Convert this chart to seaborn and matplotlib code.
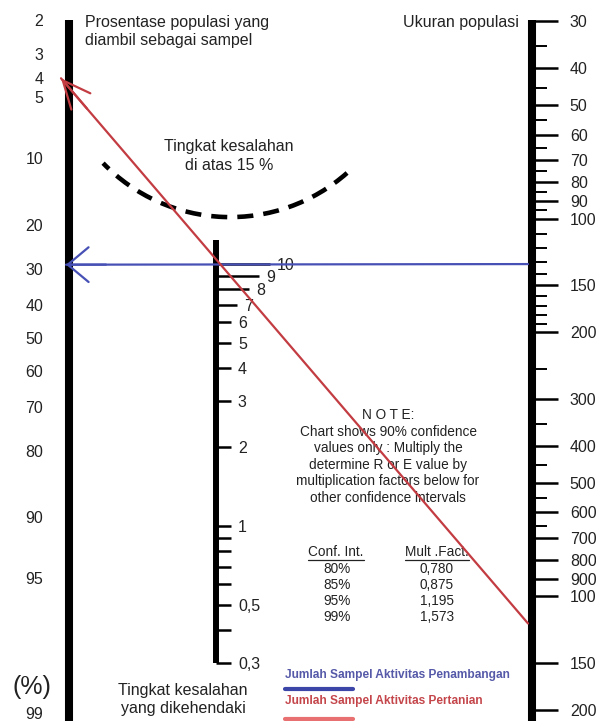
import numpy as np
import pandas as pd
import matplotlib
matplotlib.use("Agg")
import matplotlib.pyplot as plt
from matplotlib.patches import Arc
import seaborn as sns

# --- scale values ---
sample_pct = [2, 3, 4, 5, 10, 20, 30, 40, 50, 60, 70, 80, 90, 95, 99]
error_major = [10, 9, 8, 7, 6, 5, 4, 3, 2, 1, 0.5, 0.3]
error_labels = ["10", "9", "8", "7", "6", "5", "4", "3", "2", "1", "0,5", "0,3"]
error_minor = [0.9, 0.8, 0.7, 0.6, 0.4]
pop_major = [30, 40, 50, 60, 70, 80, 90, 100, 150, 200, 300, 400, 500,
             600, 700, 800, 900, 1000, 1500, 2000]
pop_minor = [35, 45, 55, 65, 75, 85, 95, 110, 120, 130, 140, 160, 170, 180,
             190, 250, 350, 450, 550, 650]

conf_int = ["80%", "85%", "95%", "99%"]
mult_fact = ["0,780", "0,875", "1,195", "1,573"]

# readings drawn on the nomogram
lines = ["Penambangan", "Pertanian"]
line_pct = [29, 4]        # percent of population sampled
line_pop = [132, 1180]    # population size

note_lines = ["N O T E:", "Chart shows 90% confidence", "values only : Multiply the",
              "determine R or E value by", "multiplication factors below for",
              "other confidence intervals"]

BLUE = "#4750b4"
RED = "#c23c42"
INK = "#222222"

sns.set_theme(style="white")
plt.rcParams["font.family"] = ["Liberation Sans", "DejaVu Sans"]

W, H = 596, 721
fig = plt.figure(figsize=(W / 100, H / 100), dpi=100)


def logit(v):
    v = np.asarray(v, dtype=float)
    return np.log(v / (100 - v))


def expit(f):
    return 100 / (1 + np.exp(-np.asarray(f, dtype=float)))


def log10(v):
    return np.log10(np.asarray(v, dtype=float))


def pow10(f):
    return 10 ** np.asarray(f, dtype=float)


def scale_axes(x, top, bottom, fwd, inv, ref, side, lw):
    (v1, p1), (v2, p2) = ref
    k = (fwd(v2) - fwd(v1)) / (p2 - p1)
    f_top = fwd(v1) + (top - p1) * k
    f_bot = fwd(v1) + (bottom - p1) * k
    if side == "left":
        rect = [x / W, 1 - bottom / H, 1 / W, (bottom - top) / H]
    else:
        rect = [(x - 1) / W, 1 - bottom / H, 1 / W, (bottom - top) / H]
    ax = fig.add_axes(rect)
    ax.set_yscale("function", functions=(fwd, inv))
    ax.set_ylim(float(inv(f_bot)), float(inv(f_top)))
    ax.patch.set_visible(False)
    for s in ax.spines.values():
        s.set_visible(False)
    ax.spines[side].set_visible(True)
    ax.spines[side].set_linewidth(lw)
    ax.spines[side].set_color("black")
    ax.spines[side].set_capstyle("butt")
    ax.set_xticks([])
    if side == "right":
        ax.yaxis.tick_right()
    return ax


# left scale: percent sampled
ax_l = scale_axes(68.5, 20, 721, logit, expit, [(2, 20), (99, 713)], "left", 5.8)
ax_l.set_yticks(sample_pct, [str(v) for v in sample_pct])
ax_l.tick_params(axis="y", which="major", direction="out", length=11.2, width=1.8,
                 pad=7, labelsize=11.5, labelcolor=INK, color="black")

# middle scale: error level
ax_m = scale_axes(216, 240, 663, log10, pow10, [(10, 264), (0.3, 663)], "right", 4.3)
ax_m.set_yticks(error_major, error_labels)
ax_m.set_yticks(error_minor, minor=True)
ax_m.tick_params(axis="y", which="both", direction="out", length=10.8, width=1.8,
                 pad=5, labelsize=11.5, labelcolor=INK, color="black")
long_ticks = {10: 38.9, 9: 31.0, 8: 23.8, 7: 15.0}
for tick, val in zip(ax_m.yaxis.get_major_ticks(), error_major):
    if val in long_ticks:
        tick.set_pad(5 + long_ticks[val] - 10.8)
        tick.tick2line.set_markersize(long_ticks[val])

# right scale: population size
ax_r = scale_axes(532, 20, 721, log10, pow10, [(30, 21), (2000, 710)], "right", 5.8)
ax_r.set_yticks(pop_major, [str(v) for v in pop_major])
ax_r.set_yticks(pop_minor, minor=True)
ax_r.tick_params(axis="y", which="major", direction="out", length=18.7, width=1.8,
                 pad=8.5, labelsize=11.5, labelcolor=INK, color="black")
ax_r.tick_params(axis="y", which="minor", direction="out", length=10.8, width=1.4,
                 color="black")


def ypx(sax, v):
    return H - sax.transData.transform((0.5, v))[1]


# overlay in pixel coordinates
ax = fig.add_axes([0, 0, 1, 1])
ax.patch.set_visible(False)

x_left = [66, 61]
x_right = [528, 528]
rows = []
for name, pct, pop, xl, xr in zip(lines, line_pct, line_pop, x_left, x_right):
    rows.append({"line": name, "x": xl, "y": ypx(ax_l, pct)})
    rows.append({"line": name, "x": xr, "y": ypx(ax_r, pop)})
df = pd.DataFrame(rows)
palette = {"Penambangan": BLUE, "Pertanian": RED}
sns.lineplot(data=df, x="x", y="y", hue="line", palette=palette, sort=False,
             estimator=None, legend=False, lw=1.6, ax=ax, zorder=5)

heads = {"Penambangan": "->,head_length=1.5,head_width=1.25",
         "Pertanian": "->,head_length=2.0,head_width=0.9"}
for name in lines:
    seg = df[df["line"] == name].reset_index(drop=True)
    x0, y0 = seg.loc[0, "x"], seg.loc[0, "y"]
    x1, y1 = seg.loc[1, "x"], seg.loc[1, "y"]
    d = np.hypot(x1 - x0, y1 - y0)
    ax.annotate("", xy=(x0, y0), xytext=(x0 + (x1 - x0) * 40 / d, y0 + (y1 - y0) * 40 / d),
                arrowprops=dict(arrowstyle=heads[name], color=palette[name], lw=1.6,
                                shrinkA=0, shrinkB=0, mutation_scale=10), zorder=6)

# dashed boundary for error above 15 %
ax.add_patch(Arc((230.2, 40.4), 353.4, 353.4, theta1=48.6, theta2=136,
                 color="black", lw=3.3, linestyle=(0, (3.5, 2.2)), zorder=4))

# labels
ax.text(85, 22, "Prosentase populasi yang", fontsize=11.5, color=INK, va="center", ha="left")
ax.text(85, 41, "diambil sebagai sampel", fontsize=11.5, color=INK, va="center", ha="left")
ax.text(519, 22, "Ukuran populasi", fontsize=11.5, color=INK, va="center", ha="right")
ax.text(229, 146, "Tingkat kesalahan", fontsize=11.5, color=INK, va="center", ha="center")
ax.text(229, 165, "di atas 15 %", fontsize=11.5, color=INK, va="center", ha="center")
ax.text(183, 690, "Tingkat kesalahan", fontsize=11.5, color=INK, va="center", ha="center")
ax.text(183, 709, "yang dikehendaki", fontsize=11.5, color=INK, va="center", ha="center")
ax.text(32, 687, "(%)", fontsize=18, color=INK, va="center", ha="center")

for i, s in enumerate(note_lines):
    ax.text(388, 415 + i * 16.6, s, fontsize=9.8, color=INK, va="center", ha="center")

ax.text(336, 552, "Conf. Int.", fontsize=9.8, color=INK, va="center", ha="center")
ax.text(437, 552, "Mult .Fact.", fontsize=9.8, color=INK, va="center", ha="center")
ax.plot([308, 364], [560, 560], color=INK, lw=0.9)
ax.plot([405, 469], [560, 560], color=INK, lw=0.9)
for i, (c, m) in enumerate(zip(conf_int, mult_fact)):
    ax.text(337, 569 + i * 16, c, fontsize=9.8, color=INK, va="center", ha="center")
    ax.text(437, 569 + i * 16, m, fontsize=9.8, color=INK, va="center", ha="center")

# legend
ax.text(285, 675, "Jumlah Sampel Aktivitas Penambangan", fontsize=8.6, fontweight="bold",
        color="#5559a8", va="center", ha="left")
ax.plot([285, 353], [689, 689], color="#3b46a8", lw=3)
ax.text(285, 701, "Jumlah Sampel Aktivitas Pertanian", fontsize=8.6, fontweight="bold",
        color="#c4464b", va="center", ha="left")
ax.plot([285, 353], [719, 719], color="#e87070", lw=3)

ax.set_xlim(0, W)
ax.set_ylim(H, 0)
ax.axis("off")

fig.savefig("out.png", dpi=100, facecolor="white")
